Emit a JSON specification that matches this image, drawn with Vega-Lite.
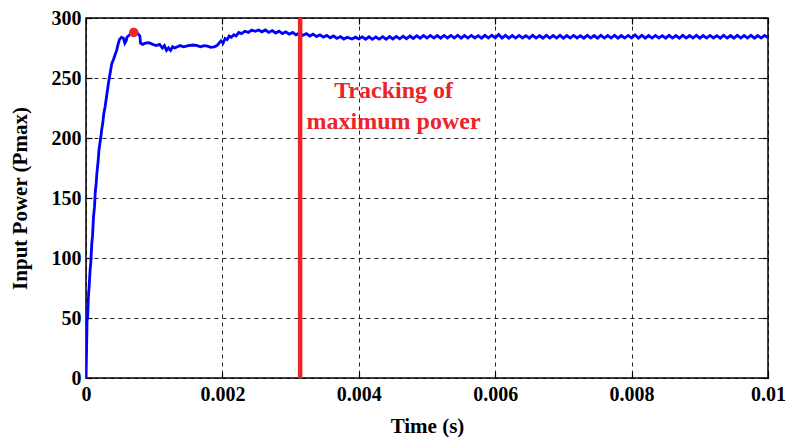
{
"$schema":"https://vega.github.io/schema/vega-lite/v6.json",
"autosize":"none",
"width":682,"height":360,
"padding":{"left":86,"top":18,"right":22,"bottom":59},
"background":"white",
"config":{
 "view":{"stroke":"black","strokeWidth":1.5},
 "axis":{"labelFont":"Liberation Serif","labelFontWeight":"bold","labelFontSize":20,"labelColor":"black","labelFlush":false,
  "titleFont":"Liberation Serif","titleFontWeight":"bold","titleFontSize":21,"titleColor":"black",
  "gridColor":"black","gridDash":[4,4],"gridWidth":1,"gridOpacity":0.85,
  "domain":false,"tickColor":"black","tickSize":-6,"tickWidth":1.2}
},
"resolve":{"axis":{"x":"independent","y":"independent"}},
"datasets":{"power":[
{"t":0,"p":0},{"t":0.000008,"p":22},{"t":0.000015,"p":47},{"t":0.000025,"p":52},{"t":0.000035,"p":68},{"t":0.000045,"p":75},
{"t":0.00006,"p":90},{"t":0.00007,"p":96},{"t":0.000085,"p":112},{"t":0.000095,"p":118},{"t":0.00011,"p":134},{"t":0.000125,"p":143},
{"t":0.000135,"p":154},{"t":0.00015,"p":163},{"t":0.00016,"p":171},{"t":0.00018,"p":182},{"t":0.00019,"p":190},{"t":0.000205,"p":196},
{"t":0.000218,"p":201},{"t":0.00023,"p":207},{"t":0.000245,"p":212},{"t":0.00026,"p":220},{"t":0.00028,"p":226},{"t":0.0003,"p":234},
{"t":0.000315,"p":240},{"t":0.00033,"p":246},{"t":0.000345,"p":251},{"t":0.00036,"p":256},{"t":0.000378,"p":262},{"t":0.0004,"p":265},
{"t":0.00043,"p":270},{"t":0.00045,"p":273},{"t":0.00047,"p":278},{"t":0.00049,"p":282},{"t":0.00052,"p":284},{"t":0.00055,"p":283},
{"t":0.00057,"p":279},{"t":0.00059,"p":281},{"t":0.0006,"p":284},{"t":0.00064,"p":286},{"t":0.0007,"p":288},{"t":0.00076,"p":287},
{"t":0.00079,"p":285},{"t":0.0008,"p":279},{"t":0.00083,"p":278},{"t":0.00087,"p":279},{"t":0.00092,"p":279.5},{"t":0.00098,"p":278},
{"t":0.00103,"p":277},{"t":0.00108,"p":278},{"t":0.00112,"p":275},{"t":0.00115,"p":277},{"t":0.00118,"p":273},{"t":0.00121,"p":275},
{"t":0.00124,"p":273},{"t":0.00127,"p":276},{"t":0.0013,"p":275},{"t":0.00134,"p":276},{"t":0.00138,"p":277},{"t":0.00143,"p":276},
{"t":0.0015,"p":277},{"t":0.00157,"p":277.5},{"t":0.00163,"p":277},{"t":0.00168,"p":276},{"t":0.00173,"p":277},{"t":0.00178,"p":276.5},
{"t":0.00183,"p":275.5},{"t":0.00188,"p":276},{"t":0.00192,"p":277},{"t":0.00195,"p":279},{"t":0.00198,"p":281},{"t":0.00201,"p":279},
{"t":0.00204,"p":283},{"t":0.00207,"p":282},{"t":0.0021,"p":285},{"t":0.00213,"p":284},{"t":0.00217,"p":286},{"t":0.0022,"p":285},
{"t":0.00224,"p":288},{"t":0.00228,"p":287},{"t":0.00233,"p":289},{"t":0.00238,"p":288},{"t":0.00243,"p":290},{"t":0.00248,"p":289},
{"t":0.00253,"p":290},{"t":0.00258,"p":288.5},{"t":0.00263,"p":290},{"t":0.00268,"p":288},{"t":0.00273,"p":289.5},{"t":0.00278,"p":287.5},
{"t":0.00283,"p":289},{"t":0.00288,"p":287},{"t":0.00293,"p":288.5},{"t":0.00298,"p":286.5},{"t":0.00303,"p":288},{"t":0.00308,"p":286},
{"t":0.00313,"p":287.5},{"t":0.00318,"p":285.5},{"t":0.00323,"p":287},{"t":0.00328,"p":285},{"t":0.00333,"p":286.5},{"t":0.00338,"p":284.5},
{"t":0.00343,"p":286},{"t":0.00348,"p":284},{"t":0.00353,"p":285.5},{"t":0.00358,"p":283.5},{"t":0.00363,"p":285},{"t":0.00368,"p":283},
{"t":0.00373,"p":284.5},{"t":0.00378,"p":282.5},{"t":0.00383,"p":284},{"t":0.0039,"p":282.5},{"t":0.00395,"p":284},{"t":0.004,"p":282.5},
{"t":0.00405,"p":284.3},{"t":0.0041,"p":282.3},{"t":0.00415,"p":284.3},{"t":0.0042,"p":282.2},{"t":0.00425,"p":284.2},{"t":0.0043,"p":282.4},
{"t":0.00435,"p":284.4},{"t":0.0044,"p":282.3},{"t":0.00445,"p":284.5},{"t":0.0045,"p":282.5},{"t":0.00455,"p":284.6},{"t":0.0046,"p":282.6},
{"t":0.00465,"p":284.8},{"t":0.0047,"p":282.8},{"t":0.00475,"p":285},{"t":0.0048,"p":283},{"t":0.00485,"p":285.2},{"t":0.0049,"p":283.2},
{"t":0.00495,"p":285.4},{"t":0.005,"p":283.3},{"t":0.00505,"p":285.5},{"t":0.0051,"p":283.3},{"t":0.00515,"p":285.4},{"t":0.0052,"p":283.2},
{"t":0.00525,"p":285.5},{"t":0.0053,"p":283.4},{"t":0.00535,"p":285.5},{"t":0.0054,"p":283.3},{"t":0.00545,"p":285.6},{"t":0.0055,"p":283.2},
{"t":0.00555,"p":285.4},{"t":0.0056,"p":283.3},{"t":0.00565,"p":285.5},{"t":0.0057,"p":283.4},{"t":0.00575,"p":285.3},{"t":0.0058,"p":283.2},
{"t":0.00585,"p":285.5},{"t":0.0059,"p":283.3},{"t":0.00595,"p":285.6},{"t":0.006,"p":283.4},{"t":0.00605,"p":286.2},{"t":0.0061,"p":283.3},
{"t":0.00615,"p":285.5},{"t":0.0062,"p":283.2},{"t":0.00625,"p":285.4},{"t":0.0063,"p":283.3},{"t":0.00635,"p":285.5},{"t":0.0064,"p":283.4},
{"t":0.00645,"p":285.3},{"t":0.0065,"p":283.2},{"t":0.00655,"p":285.5},{"t":0.0066,"p":283.3},{"t":0.00665,"p":285.4},{"t":0.0067,"p":283.2},
{"t":0.00675,"p":285.5},{"t":0.0068,"p":283.3},{"t":0.00685,"p":285.4},{"t":0.0069,"p":283.3},{"t":0.00695,"p":285.5},{"t":0.007,"p":283.2},
{"t":0.00705,"p":285.4},{"t":0.0071,"p":283.3},{"t":0.00715,"p":285.5},{"t":0.0072,"p":283.4},{"t":0.00725,"p":285.3},{"t":0.0073,"p":283.2},
{"t":0.00735,"p":285.5},{"t":0.0074,"p":283.3},{"t":0.00745,"p":285.4},{"t":0.0075,"p":283.2},{"t":0.00755,"p":285.5},{"t":0.0076,"p":283.3},
{"t":0.00765,"p":285.4},{"t":0.0077,"p":283.3},{"t":0.00775,"p":285.5},{"t":0.0078,"p":283.2},{"t":0.00785,"p":285.4},{"t":0.0079,"p":283.3},
{"t":0.00795,"p":285.5},{"t":0.008,"p":283.4},{"t":0.00805,"p":286},{"t":0.0081,"p":283.3},{"t":0.00815,"p":285.5},{"t":0.0082,"p":283.2},
{"t":0.00825,"p":285.4},{"t":0.0083,"p":283.3},{"t":0.00835,"p":285.5},{"t":0.0084,"p":283.4},{"t":0.00845,"p":285.3},{"t":0.0085,"p":283.2},
{"t":0.00855,"p":285.5},{"t":0.0086,"p":283.3},{"t":0.00865,"p":285.4},{"t":0.0087,"p":283.2},{"t":0.00875,"p":285.5},{"t":0.0088,"p":283.3},
{"t":0.00885,"p":285.4},{"t":0.0089,"p":283.3},{"t":0.00895,"p":285.5},{"t":0.009,"p":283.2},{"t":0.00905,"p":285.4},{"t":0.0091,"p":283.3},
{"t":0.00915,"p":285.5},{"t":0.0092,"p":283.4},{"t":0.00925,"p":285.3},{"t":0.0093,"p":283.2},{"t":0.00935,"p":285.5},{"t":0.0094,"p":283.3},
{"t":0.00945,"p":285.4},{"t":0.0095,"p":283.2},{"t":0.00955,"p":285.5},{"t":0.0096,"p":283.3},{"t":0.00965,"p":285.4},{"t":0.0097,"p":283.3},
{"t":0.00975,"p":285.5},{"t":0.0098,"p":283.2},{"t":0.00985,"p":285.4},{"t":0.0099,"p":283.3},{"t":0.00995,"p":285.5},{"t":0.01,"p":283.5}
]},
"layer":[
 {"data":{"name":"power"},
  "mark":{"type":"line","color":"#0000ff","strokeWidth":2.8,"clip":true},
  "encoding":{
   "x":{"field":"t","type":"quantitative","scale":{"domain":[0,0.01],"nice":false,"zero":false},
    "axis":{"values":[0,0.002,0.004,0.006,0.008,0.01],"format":"~g","title":"Time (s)","labelPadding":12,"titlePadding":11,"grid":true}},
   "y":{"field":"p","type":"quantitative","scale":{"domain":[0,300],"nice":false},
    "axis":{"values":[0,50,100,150,200,250,300],"title":"Input Power (Pmax)","labelPadding":11,"titlePadding":21,"grid":true}}
  }},
 {"data":{"values":[{"t":0.00314}]},
  "mark":{"type":"rule","color":"#ee2229","strokeWidth":4.5},
  "encoding":{"x":{"field":"t","type":"quantitative","axis":null}}},
 {"data":{"values":[{"t":0.0007,"p":288}]},
  "mark":{"type":"point","shape":"circle","filled":true,"color":"#ee2229","size":90,"opacity":1},
  "encoding":{
   "x":{"field":"t","type":"quantitative","axis":{"orient":"top","values":[0,0.002,0.004,0.006,0.008,0.01],"labels":false,"title":null,"grid":false}},
   "y":{"field":"p","type":"quantitative","axis":{"orient":"right","values":[0,50,100,150,200,250,300],"labels":false,"title":null,"grid":false}}}},
 {"data":{"values":[{"t":0.00451,"p":239.5,"label":"Tracking of\nmaximum power"}]},
  "mark":{"type":"text","color":"#ee2229","font":"Liberation Serif","fontWeight":"bold","fontSize":24,"lineBreak":"\n","lineHeight":31,"align":"center","baseline":"middle"},
  "encoding":{"x":{"field":"t","type":"quantitative","axis":null},"y":{"field":"p","type":"quantitative","axis":null},"text":{"field":"label"}}}
]
}
